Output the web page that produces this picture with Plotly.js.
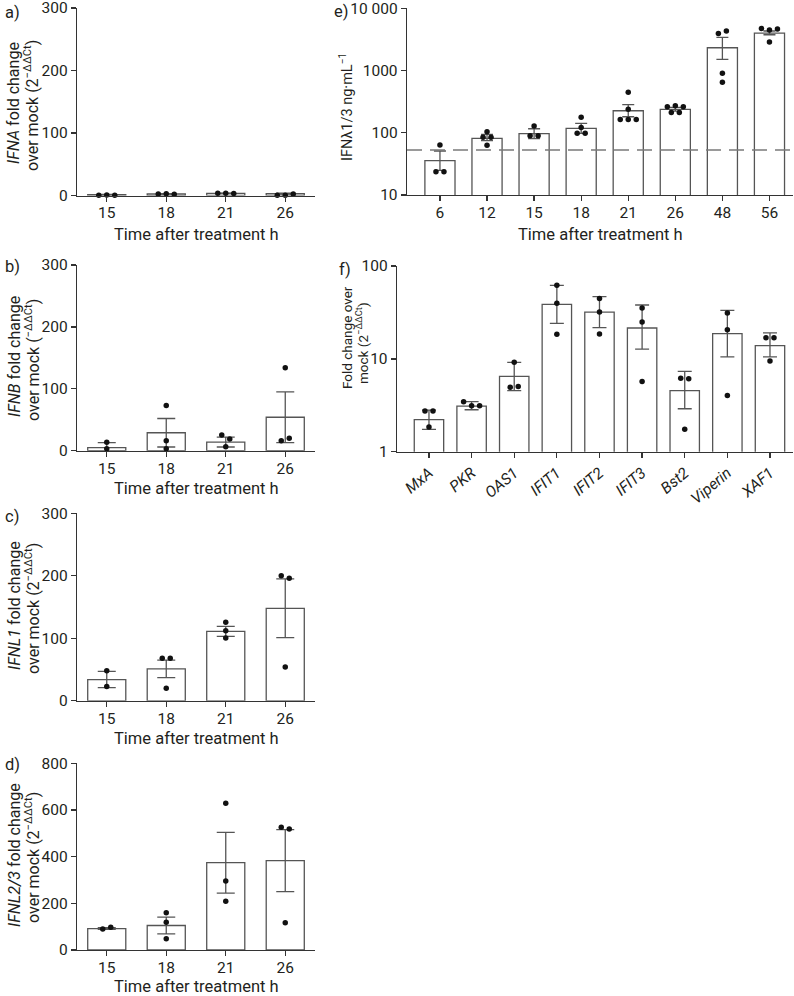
<!DOCTYPE html>
<html><head><meta charset="utf-8">
<script src="https://cdn.plot.ly/plotly-3.0.1.min.js"></script>
<style>body{margin:0;background:#fff}#chart{width:794px;height:996px}</style>
</head><body><div id="chart"></div><script>
// ---------- data ----------
const timeABCD = ['15', '18', '21', '26'];
// a) IFNA
const ifnaMean = [1.5, 2.5, 3.5, 3.0];
const ifnaSem = [0.3, 0.3, 0.3, 0.6];
const ifnaPts = [[0.5, 0.8, 0.6], [2.5, 2.8, 2.2], [3.5, 3.8, 3.2], [0.6, 0.5, 2.5]];
// b) IFNB
const ifnbMean = [5, 29, 14, 54];
const ifnbSem = [8, 23, 8, 41];
const ifnbPts = [[13.5, 3], [73, 16, 3], [25.4, 19, 6.5], [134, 16, 20]];
// c) IFNL1
const ifnl1Mean = [34, 51, 111, 148];
const ifnl1Sem = [13, 14, 8, 47];
const ifnl1Pts = [[48, 23], [68, 68, 20], [125.6, 112, 100.5], [200, 196, 54]];
// d) IFNL2/3
const ifnl23Mean = [92, 105, 374, 383];
const ifnl23Sem = [4, 36, 130, 133];
const ifnl23Pts = [[90, 97], [160, 119, 48], [629, 296, 209], [526, 518, 117]];
// e) IFN-lambda1/3 protein
const timeE = ['6', '12', '15', '18', '21', '26', '48', '56'];
const protMean = [35.6, 81.3, 96.6, 118, 226, 238, 2323, 4000];
const protHi = [50.9, 94.4, 116, 142, 283, 255, 3410, 4320];
const protLo = [24.9, 74.6, 80.4, 98, 181, 222, 1514, 3757];
const protPts = [[23.7, 63.5, 23.7], [104, 84.5, 84.5, 62.8], [128, 89.7, 89.7], [177, 122, 98, 98],
  [447, 238, 164, 164, 164], [262, 272, 262, 212, 212], [3954, 4316, 901, 646], [4750, 4500, 4650, 2870]];
const detectionLimit = 53;
// f) ISGs
const genes = ['MxA', 'PKR', 'OAS1', 'IFIT1', 'IFIT2', 'IFIT3', 'Bst2', 'Viperin', 'XAF1'];
const isgMean = [2.21, 3.10, 6.48, 38.6, 31.9, 21.5, 4.54, 18.7, 13.9];
const isgHi = [2.81, 3.46, 9.16, 61.9, 46.7, 38, 7.33, 33.3, 19];
const isgLo = [1.74, 2.83, 4.54, 24.1, 21.7, 12.7, 2.9, 10.5, 10.5];
const isgPts = [[2.75, 2.75, 1.85], [3.46, 3.13, 3.13], [9.2, 4.95, 5.05], [62, 39.6, 18.4], [44.8, 31.9, 18.5],
  [35.3, 24.9, 5.72], [6.2, 6.1, 1.74], [31.2, 20.6, 4.04], [16.9, 16.9, 9.5]];

// ---------- style / layout ----------
const W = 794, H = 996;
const FONT = 'Roboto, "Liberation Sans", sans-serif';
const TXT = '#231f20';
const AX = '#333333';
const BARLINE = '#555555';
const TICKSIZE = 15.5, TITLESIZE = 16.5;
const px2x = p => p / W;
const px2y = p => 1 - p / H;

const panels = [
  {cats: timeABCD, mean: ifnaMean, sem: ifnaSem, pts: ifnaPts, log: false, range: [0, 300], tv: [0, 100, 200, 300],
   xpx: [77, 315], ypx: [8, 195.5], xr: [-0.5, 3.5], bw: 0.64, cap: 9},
  {cats: timeABCD, mean: ifnbMean, sem: ifnbSem, pts: ifnbPts, log: false, range: [0, 300], tv: [0, 100, 200, 300],
   xpx: [77, 315], ypx: [265, 450.7], xr: [-0.5, 3.5], bw: 0.64, cap: 9},
  {cats: timeABCD, mean: ifnl1Mean, sem: ifnl1Sem, pts: ifnl1Pts, log: false, range: [0, 300], tv: [0, 100, 200, 300],
   xpx: [77, 315], ypx: [513.3, 700.8], xr: [-0.5, 3.5], bw: 0.64, cap: 9},
  {cats: timeABCD, mean: ifnl23Mean, sem: ifnl23Sem, pts: ifnl23Pts, log: false, range: [0, 800], tv: [0, 200, 400, 600, 800],
   xpx: [77, 315], ypx: [763.3, 950], xr: [-0.5, 3.5], bw: 0.64, cap: 9},
  {cats: timeE, mean: protMean, hi: protHi, lo: protLo, pts: protPts, log: true, range: [1, 4], tv: [10, 100, 1000, 10000],
   tt: ['10', '100', '1000', '10 000'], xpx: [407, 793], ypx: [8.3, 195], xr: [-0.7, 7.5], bw: 0.64, cap: 6},
  {cats: genes, mean: isgMean, hi: isgHi, lo: isgLo, pts: isgPts, log: true, range: [0, 2], tv: [1, 10, 100],
   tt: ['1', '10', '100'], xpx: [397, 793], ypx: [266, 451.7], xr: [-0.75, 8.54], bw: 0.69, cap: 7, italic: true, angle: -40}
];

function clusterOffsets(vals, toPx, spacing, thr) {
  const idx = vals.map((v, i) => i).sort((a, b) => toPx(vals[a]) - toPx(vals[b]));
  const groups = [];
  let cur = [idx[0]];
  for (let k = 1; k < idx.length; k++) {
    if (Math.abs(toPx(vals[idx[k]]) - toPx(vals[idx[k - 1]])) < thr) cur.push(idx[k]);
    else { groups.push(cur); cur = [idx[k]]; }
  }
  groups.push(cur);
  const off = new Array(vals.length).fill(0);
  groups.forEach(g => { g.sort((a, b) => a - b); g.forEach((j, m) => { off[j] = (m - (g.length - 1) / 2) * spacing; }); });
  return off;
}

const traces = [];
const layout = {
  width: W, height: H, margin: {l: 0, r: 0, t: 0, b: 0}, paper_bgcolor: '#fff', plot_bgcolor: 'rgba(0,0,0,0)',
  showlegend: false, font: {family: FONT, size: TICKSIZE, color: TXT}, annotations: []
};

panels.forEach((p, k) => {
  const n = k === 0 ? '' : String(k + 1);
  const xa = 'x' + n, ya = 'y' + n;
  const idx = p.cats.map((c, i) => i);
  const hPx = p.ypx[1] - p.ypx[0];
  const wPx = p.xpx[1] - p.xpx[0];
  const pxPerX = wPx / (p.xr[1] - p.xr[0]);
  const toPx = p.log ? (v => Math.log10(v) * hPx / (p.range[1] - p.range[0])) : (v => v * hPx / (p.range[1] - p.range[0]));
  const err = p.log
    ? {type: 'data', symmetric: false, array: p.hi.map((h, i) => h - p.mean[i]), arrayminus: p.lo.map((l, i) => p.mean[i] - l)}
    : {type: 'data', array: p.sem};
  Object.assign(err, {color: BARLINE, thickness: 1.3, width: p.cap});
  traces.push({
    type: 'bar', x: idx, y: p.mean, width: p.bw, xaxis: xa, yaxis: ya,
    marker: {color: '#ffffff', line: {color: BARLINE, width: 1.3}}, error_y: err, hoverinfo: 'y'
  });
  if (k === 4) {
    traces.push({
      type: 'scatter', mode: 'lines', x: [p.xr[0], p.xr[1]], y: [detectionLimit, detectionLimit], xaxis: xa, yaxis: ya,
      line: {color: '#7a7a7a', width: 1.6, dash: '15px,8px'}, hoverinfo: 'skip'
    });
  }
  const px = [], py = [];
  p.pts.forEach((vals, i) => {
    const off = clusterOffsets(vals, toPx, 8, 5);
    vals.forEach((v, j) => { px.push(i + off[j] / pxPerX); py.push(v); });
  });
  traces.push({
    type: 'scatter', mode: 'markers', x: px, y: py, xaxis: xa, yaxis: ya, cliponaxis: false,
    marker: {color: '#111111', size: 5.5}, hoverinfo: 'y'
  });
  const common = {
    showline: true, linecolor: AX, linewidth: 1.3, ticks: 'outside', ticklen: 5, tickwidth: 1.3, tickcolor: AX,
    showgrid: false, zeroline: false, fixedrange: true, automargin: false, ticklabeloverflow: 'allow',
    tickfont: {family: FONT, size: TICKSIZE, color: TXT}
  };
  layout['xaxis' + n] = Object.assign({}, common, {
    domain: [px2x(p.xpx[0]), px2x(p.xpx[1])], anchor: ya, range: p.xr, tickmode: 'array', tickvals: idx,
    ticktext: p.cats.map(c => p.italic ? '<i>' + c + '</i>' : c), tickangle: p.angle || 0,
    ticklabelstandoff: p.angle ? 0 : -2
  });
  layout['yaxis' + n] = Object.assign({}, common, {
    domain: [px2y(p.ypx[1]), px2y(p.ypx[0])], anchor: xa, type: p.log ? 'log' : 'linear', range: p.range,
    autorange: false, tickmode: 'array', tickvals: p.tv, ticktext: p.tt || p.tv.map(String)
  });
});

function ann(text, x, y, opts, size) {
  layout.annotations.push(Object.assign({
    text: text, xref: 'paper', yref: 'paper', x: px2x(x), y: px2y(y), showarrow: false,
    xanchor: 'center', yanchor: 'middle', font: {family: FONT, size: size || TITLESIZE, color: TXT}
  }, opts || {}));
}
// panel letters
ann('a)', 12, 12.5); ann('b)', 12, 266); ann('c)', 12, 516); ann('d)', 12, 764);
ann('e)', 341, 11); ann('f)', 345, 269);
// x titles
const xt = 'Time after treatment h';
ann(xt, 196, 234); ann(xt, 196, 488); ann(xt, 196, 738); ann(xt, 196, 986); ann(xt, 600, 234);
// y titles (rotated)
const rot = {textangle: -90};
const sup = '(2<sup>−ΔΔCt</sup>)';
ann('<i>IFNA</i> fold change', 14, 103, rot, 16); ann('over mock ' + sup, 32, 106, rot, 16);
ann('<i>IFNB</i> fold change', 14, 357, rot, 16); ann('over mock (<sup>−ΔΔCt</sup>)', 32, 360, rot, 16);
ann('<i>IFNL1</i> fold change', 14, 606, rot, 16); ann('over mock ' + sup, 32, 609, rot, 16);
ann('<i>IFNL2/3</i> fold change', 14, 855, rot, 16); ann('over mock ' + sup, 32, 858, rot, 16);
ann('IFNλ1/3 ng·mL<sup>−1</sup>', 346, 107, rot, 14.5);
ann('Fold change over', 347, 338, rot, 13.5); ann('mock ' + sup, 362, 343, rot, 13.5);

Plotly.newPlot('chart', traces, layout, {displayModeBar: false, staticPlot: true});
</script></body></html>
